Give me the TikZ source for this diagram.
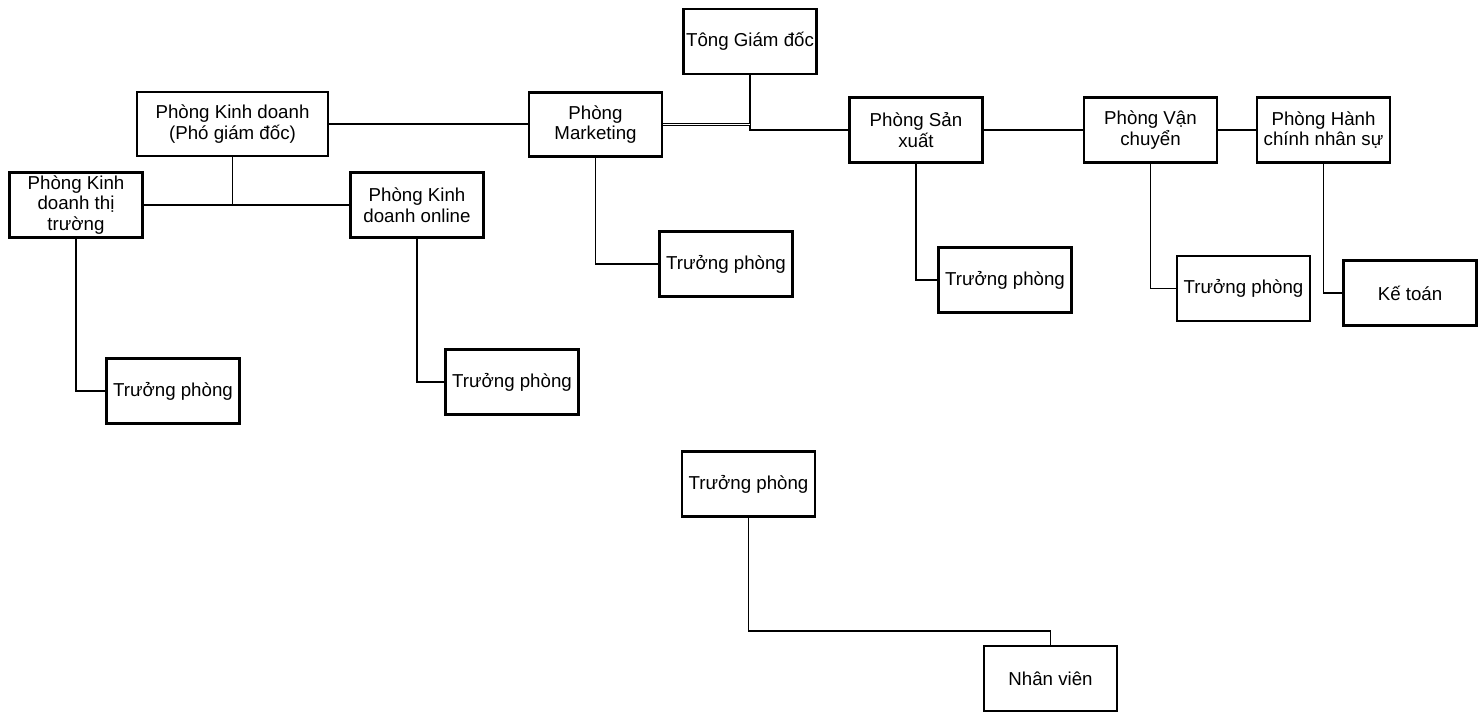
\documentclass[tikz,border=0pt]{standalone}
\usepackage{fontspec}
\setmainfont{Liberation Sans}
\begin{document}
\begin{tikzpicture}[x=1pt,y=-1pt,
  box/.style={draw, line width=2.8pt, minimum width=133pt, minimum height=65pt,
    align=center, inner sep=1pt, font=\fontsize{18.7}{20.5}\selectfont},
  thinln/.style={line width=1.3pt},
  thickln/.style={line width=2.3pt},
  dblln/.style={double, double distance=1.8pt, line width=0.9pt}]
\useasboundingbox (0,0) rectangle (1480,713);
% top level
\node[box] (tgd) at (750,41.5) {Tông Giám đốc};
\node[box, minimum width=191pt, minimum height=64pt] (kd) at (232.5,124) {Phòng Kinh doanh\\(Phó giám đốc)};
\node[box, minimum height=64pt] (mkt) at (595.5,124.5) {Phòng\\Marketing};
\node[box] (sx) at (916,130) {Phòng Sản\\xuất};
\node[box] (vc) at (1150.5,130) {Phòng Vận\\chuyển};
\node[box] (hc) at (1323.5,130) {Phòng Hành\\chính nhân sự};
% second level
\node[box] (kdtt) at (76,205) {Phòng Kinh\\doanh thị\\trường};
\node[box] (kdol) at (417,205) {Phòng Kinh\\doanh online};
% managers
\node[box] (tptt) at (173,391) {Trưởng phòng};
\node[box] (tpol) at (512,382) {Trưởng phòng};
\node[box] (tpmkt) at (726,264) {Trưởng phòng};
\node[box] (tpsx) at (1005,280) {Trưởng phòng};
\node[box] (tpvc) at (1243.5,288.5) {Trưởng phòng};
\node[box] (kt) at (1410,293) {Kế toán};
% bottom pair
\node[box] (tpb) at (748.5,484) {Trưởng phòng};
\node[box] (nv) at (1050.5,678.5) {Nhân viên};
% connectors
\draw[thickln] (tgd.south) |- (sx.west);
\draw[dblln] (mkt.east) -- (mkt.east -| tgd.south);
\draw[thinln] (kd.east) -- (kd.east -| mkt.west);
\draw[thickln] (sx.east) -- (vc.west);
\draw[thinln] (vc.east) -- (hc.west);
\draw[thinln] (kd.south) -- (kd.south |- kdtt.east);
\draw[thinln] (kdtt.east) -- (kdol.west);
\draw[thinln] (kdtt.south) |- (tptt.west);
\draw[thinln] (kdol.south) |- (tpol.west);
\draw[thinln] (mkt.south) |- (tpmkt.west);
\draw[thinln] (sx.south) |- (tpsx.west);
\draw[thinln] (vc.south) |- (tpvc.west);
\draw[thinln] (hc.south) |- (kt.west);
\coordinate (bend) at (nv.north |- 0,631);
\draw[thinln] (tpb.south) |- (bend) -- (nv.north);
\end{tikzpicture}
\end{document}
